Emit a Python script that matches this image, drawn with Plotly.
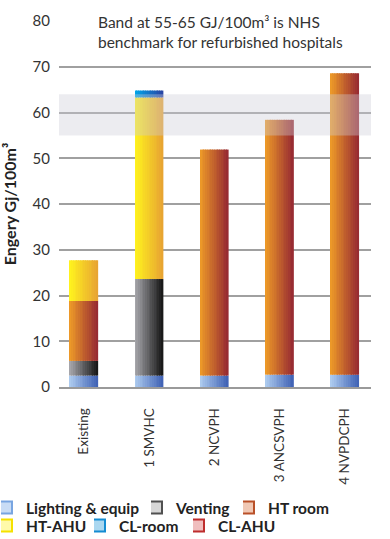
import plotly.graph_objects as go
import numpy as np

categories = ["Existing", "1 SMVHC", "2 NCVPH", "3 ANCSVPH", "4 NVPDCPH"]
lighting = [2.5, 2.5, 2.5, 2.7, 2.7]
venting = [3.2, 21.1, 0, 0, 0]
ht_room = [13.1, 0, 49.4, 55.7, 65.9]
ht_ahu = [8.9, 39.7, 0, 0, 0]
cl_room = [0, 1.5, 0, 0, 0]
cl_ahu = [0, 0, 0, 0, 0]
band_low, band_high = 55, 64
y_ticks = [0, 10, 20, 30, 40, 50, 60, 70, 80]

series = [
    ("Lighting & equip", lighting, (172, 202, 238), (66, 100, 182), "rgba(200,220,245,1)", "rgb(120,165,225)"),
    ("Venting", venting, (165, 165, 170), (25, 25, 25), "rgba(215,215,215,1)", "rgb(80,80,80)"),
    ("HT room", ht_room, (236, 152, 40), (152, 44, 50), "rgba(240,200,180,1)", "rgb(185,80,40)"),
    ("HT-AHU", ht_ahu, (255, 242, 30), (232, 165, 50), "rgba(255,250,170,1)", "rgb(245,225,0)"),
    ("CL-room", cl_room, (0, 165, 232), (40, 70, 165), "rgba(170,215,240,1)", "rgb(20,140,210)"),
    ("CL-AHU", cl_ahu, (205, 55, 55), (140, 30, 30), "rgba(240,190,190,1)", "rgb(190,45,45)"),
]

# plot area geometry (px)
L, R, T, B = 59, 19, 21, 152
W, H = 390, 539
PW, PH = W - L - R, H - T - B

# legend text starts (px) and row centres (px)
leg_text_x = [26, 176, 268, 26, 119, 218]
leg_row_y = [508, 508, 508, 526, 526, 526]

fig = go.Figure()
N = 16
bw = 0.43
sw = bw / N
base = np.zeros(len(categories))
legend_layout = {}
for k, (name, vals, c0, c1, lf, lc) in enumerate(series):
    vals = np.array(vals, dtype=float)
    for i in range(N):
        t = i / (N - 1)
        col = "rgb(%d,%d,%d)" % tuple(int(round(a + (b - a) * t)) for a, b in zip(c0, c1))
        fig.add_trace(go.Bar(
            x=categories, y=vals, base=base.copy(), width=sw * 1.08,
            offset=-bw / 2 + i * sw, marker=dict(color=col, line=dict(width=0)),
            showlegend=False, hoverinfo="skip"))
    base = base + vals
    lname = "legend" if k == 0 else "legend%d" % (k + 1)
    fig.add_trace(go.Bar(x=[None], y=[None], name=name, legend=lname,
                         marker=dict(color=lf, line=dict(color=lc, width=2))))
    legend_layout[lname] = dict(
        orientation="h", xanchor="left", yanchor="middle",
        x=(leg_text_x[k] - 25 - L) / PW, y=-(leg_row_y[k] - (T + PH)) / PH,
        font=dict(family="Lato", size=15.5, color="#222", weight="bold"),
        itemwidth=30, indentation=-15, bgcolor="rgba(0,0,0,0)")

fig.add_shape(type="rect", xref="paper", x0=0, x1=1, yref="y", y0=band_low, y1=band_high,
              fillcolor="rgba(205,205,215,0.38)", line=dict(width=0), layer="above")

fig.add_annotation(xref="paper", yref="paper", x=(90 - L) / PW, y=1 - (32.5 - T) / PH,
                   xanchor="left", yanchor="middle", align="left",
                   text="Band at 55-65 GJ/100m³ is NHS<br>benchmark for refurbished hospitals",
                   showarrow=False, bgcolor="white", borderpad=7, width=254,
                   font=dict(family="Lato", size=15.5, color="#333"))

fig.update_layout(
    width=W, height=H,
    margin=dict(l=L, r=R, t=T, b=B, autoexpand=False),
    barmode="overlay",
    plot_bgcolor="white", paper_bgcolor="white",
    font=dict(family="Lato", color="#333"),
    showlegend=True,
    xaxis=dict(type="category", range=[-0.383, 4.40], tickangle=-90, showgrid=False,
               tickfont=dict(size=13.5, color="#333"), ticklabelstandoff=14,
               showline=True, linecolor="#9a9a9a", linewidth=1.5, automargin=False),
    yaxis=dict(range=[0, 80], tickvals=y_ticks, showgrid=True, gridcolor="#a0a0a0",
               gridwidth=1.5, zeroline=False, tickfont=dict(size=15, color="#333"),
               ticklabelstandoff=8, automargin=False,
               title=dict(text="Engery Gj/100m³", font=dict(size=16, color="#222", weight="bold"),
                          standoff=12)),
    **legend_layout,
)

fig.write_html("out.html", config={"displayModeBar": False},
               post_script="document.body.style.margin='0';")
